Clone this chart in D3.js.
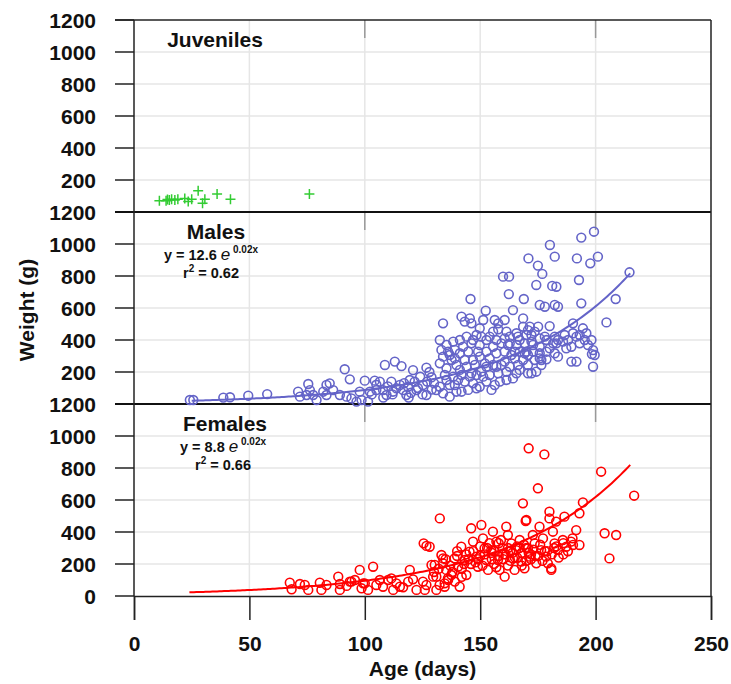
<!DOCTYPE html>
<html><head><meta charset="utf-8">
<script src="https://cdn.jsdelivr.net/npm/d3@7"></script>
<style>body{margin:0;background:#fff}svg{display:block;font-family:"Liberation Sans",Arial,sans-serif}</style>
</head><body><svg id="c" width="731" height="684"></svg>
<script>
// ---------- data ----------
const xTicks = [0, 50, 100, 150, 200, 250];
const yTicks = [0, 200, 400, 600, 800, 1000, 1200];
const panelNames = ["Juveniles", "Males", "Females"];

const juvAge    = [11, 13.9, 14.5, 15.3, 16.3, 17.7, 19, 22, 23.5, 25, 27.8, 29.7, 30.7, 36, 41.8, 76];
const juvWeight = [71, 71, 78, 75, 79, 75, 80, 85, 65, 79, 133, 54, 79, 112, 79, 112];

const maleAge = [24.2,25.7,38.7,41.6,49.5,57.7,
71.1,75.5,76.2,74.8,79.1,82,83.4,84.8,86.3,83.4,91.3,93.5,92.1,94.2,97.8,100,98.6,101.4,102.2,104.3,105,106.5,108.7,113,115.9,111.5,112.2,113.7,116.6,118.7,120.9,121.6,122.4,126.7,128.9,126.7,131,109.4,118,96.4,71.9,77.6,89.2,107.9,115.2,125.2,119.5,
145.8,152.4,162.4,168.9,141.9,143.3,145.5,146.2,133.9,156.3,160.6,164.2,168.6,171.5,175.8,178,182.3,183.7,193.8,204.7,190.2,194.5,180.1,175.1,173.6,168.6,149.8,148.4,155.6,157.8,162.8,166.4,170,172.2,175.8,178,182.3,183.7,188.1,190.2,193.1,195.3,196,187.3,183,175.8,172.9,169.3,165.7,162.1,159.2,155.6,152.7,149.8,146.2,142.6,138.3,135.4,132.5,136.8,141.2,144.8,149.1,152.7,157,160.6,165,169.3,172.9,178.7,182.3,198.9,199.6,183.7,178.7,176.5,189.5,191.7,198.9,174.3,170.7,167.1,162.8,159.2,155.6,152,147.7,144.1,139.7,135.4,132.5,134.7,138.3,141.9,146.2,150.5,154.1,157.8,161.4,165.7,158.5,154.9,149.8,146.9,143.3,139,135.4,136.8,141.9,148.4,132.5,176.5,170.7,168.6,165,154.1,146.9,151.3,141.2,137.6,161.4,
199.3,193.8,180.2,182.3,170.9,175,176.9,191.9,201,197.7,192.8,214.7,159.9,162.5,174.3,181.2,183,208.7,198.4,
133.9,139,143.3,149.8,152.7,157,160.6,163.5,167.1,170.7,173.6,175.8,180.1,181.6,185.9,189.5,193.1,196.7,198.2,191.7,186.6,178.7,172.2,167.1,162.8,160.6,157,154.1,150.5,146.9,144.1,141.2,139,136.1,133.2,145.5,148.4,140.4,136.8,144.8,152.7,156.3,139.7,133.9,164.2,166.4,172.2,175.8,170,165.7,161.4,151.3,157.8,170.7,
110,112,117,120,123,127,129,125,105,103,108,119,130,128,124];
const maleWeight = [25,25,40,42,52,62,
77,125,87,56,25,77,119,129,87,56,217,154,46,35,77,146,25,15,77,146,87,140,244,265,237,140,77,98,87,108,212,140,87,227,167,56,87,56,56,15,46,56,56,87,119,119,150,
656,583,687,656,546,515,535,504,504,525,525,587,535,483,619,608,619,608,629,510,504,473,487,483,452,483,473,431,452,467,421,421,431,431,410,421,421,400,400,442,431,400,442,348,379,358,369,379,369,369,379,358,400,369,379,358,390,369,400,306,317,327,327,327,317,327,327,317,327,327,317,337,306,296,279,275,265,265,233,202,192,213,233,244,244,254,244,233,244,223,254,181,171,181,192,202,181,192,202,192,140,88,108,129,140,119,150,46,77,98,108,244,244,275,285,285,275,171,213,275,150,
1077,1040,994,921,910,865,813,910,921,879,775,823,796,796,744,738,733,656,312,
296,285,275,296,233,233,265,306,327,306,275,317,348,379,390,358,379,369,400,421,431,400,390,400,379,410,400,421,421,400,421,400,338,327,338,171,181,150,119,88,140,119,77,67,160,244,192,285,327,442,452,525,504,462,
110,60,130,70,100,140,90,60,120,60,40,40,130,200,170];

const femaleAge = [67.5,68.3,71.9,74,75.5,80.5,81.2,83.4,88.5,89.2,89.2,92.1,94.2,95.7,97.8,98.6,100,101.4,103.6,105,106.5,107.9,110.1,111.5,112.3,113.7,116.6,118.8,119.5,120.9,122.4,125.2,126,126.7,128.9,129.6,131,132.5,125.5,126.7,133.2,133.9,134.6,136.1,93.5,99.3,115.2,
128.1,133.9,130.3,131,132.4,134.6,135.3,137.5,138.9,140.4,141.1,141.8,143.3,144,145.4,146.1,146.9,148.3,149,150.5,151.2,151.9,152.6,153.4,154.8,155.5,157,157.7,158.4,159.8,160.6,161.3,162,163.5,164.2,164.9,165.6,167.1,167.8,168.5,169.2,170,170.7,171.4,172.8,173.6,174.3,175,175.7,176.4,177.2,178.6,179.3,180,180,180.8,181.5,182.2,182.9,183.7,185.8,186.5,187.3,189.4,190.2,191.6,193,193,194.5,202.4,203.9,206,
171,177.8,216.7,169.7,208.9,180.8,
150,155,160,165,170,148,158,163,168,172,145,153,160,166,175,178,182,186,140,143,137,135,156,162,170,
138,140,142,144,146,147,149,150,151,152,154,155,156,157,158,159,161,162,163,164,166,167,168,169,171,172,173,174,176,177,179,181,183,184,186,188,190,136,139,142,130,132];
const femaleWeight = [83,42,75,69,38,83,38,69,121,75,38,63,90,100,163,48,79,38,183,69,100,58,100,110,38,79,54,90,163,104,38,90,38,69,194,121,38,485,329,313,256,204,58,100,90,79,58,
308,235,194,121,69,79,163,131,235,183,58,308,225,131,277,423,340,246,183,444,360,298,225,163,287,402,340,225,163,298,121,433,381,329,235,163,287,350,215,579,173,475,298,246,381,329,204,673,433,287,360,246,204,527,485,163,402,329,465,287,350,496,308,340,319,412,517,319,585,777,392,235,
923,885,627,469,381,173,
250,270,260,240,300,210,330,280,270,260,230,300,230,310,250,280,300,260,280,200,190,230,200,190,220,
150,250,170,260,200,280,230,310,190,260,330,230,280,180,250,350,260,300,220,270,240,300,190,320,270,230,290,250,320,220,280,260,310,240,330,280,360,110,90,120,150,170];

// fitted curves (y = a·e^(b·x)), [a, b, fromAge, toAge]
const maleFit   = [12.6, 0.0194, 25, 215];
const femaleFit = [14.7, 0.0187, 24, 215];

// ---------- drawing ----------
const svg = d3.select("#c");
const X0 = 134, X1 = 711;
const panelTops = [20, 212, 404], panelH = 192;
const x = d3.scaleLinear().domain([0, 250]).range([X0, X1]);
const ys = panelTops.map(t => d3.scaleLinear().domain([0, 1200]).range([t + panelH, t]));
const F = "bold 21px 'Liberation Sans', Arial, sans-serif";

// grid
ys.forEach((y, i) => {
  const g = svg.append("g");
  g.selectAll("line.h").data(yTicks.filter(v => v > 0 && v < 1200)).join("line")
    .attr("x1", X0).attr("x2", X1).attr("y1", d => y(d)).attr("y2", d => y(d))
    .attr("stroke", "#e6e6e6").attr("stroke-width", 1.5);
  g.selectAll("line.v").data(xTicks.filter(v => v > 0 && v < 250)).join("line")
    .attr("y1", y(0)).attr("y2", y(1200)).attr("x1", d => x(d)).attr("x2", d => x(d))
    .attr("stroke", "#e6e6e6").attr("stroke-width", 1.5);
  g.selectAll("line.t").data([100, 200]).join("line")
    .attr("y1", y(1200)).attr("y2", y(1200) + 18).attr("x1", d => x(d)).attr("x2", d => x(d))
    .attr("stroke", "#999").attr("stroke-width", 1.5);
});

// left axis ticks & labels
ys.forEach((y, i) => {
  const vals = i === 2 ? yTicks : yTicks.filter(v => v > 0);
  svg.append("g").selectAll("line").data(vals).join("line")
    .attr("x1", 115).attr("x2", X0).attr("y1", d => y(d)).attr("y2", d => y(d))
    .attr("stroke", "#222").attr("stroke-width", 1.5);
  svg.append("g").selectAll("text").data(vals).join("text")
    .attr("x", 96).attr("y", d => y(d)).attr("dy", "0.36em")
    .attr("text-anchor", "end").style("font", F).attr("fill", "#111").text(d => d);
});

// frame lines
svg.append("line").attr("x1", 115).attr("x2", X1).attr("y1", 20).attr("y2", 20).attr("stroke", "#222").attr("stroke-width", 1.5);
[212, 404].forEach(v => svg.append("line").attr("x1", 115).attr("x2", X1).attr("y1", v).attr("y2", v).attr("stroke", "#111").attr("stroke-width", 2));
svg.append("line").attr("x1", X0).attr("x2", X0).attr("y1", 20).attr("y2", 596).attr("stroke", "#222").attr("stroke-width", 1.5);
svg.append("line").attr("x1", X1).attr("x2", X1).attr("y1", 20).attr("y2", 596).attr("stroke", "#222").attr("stroke-width", 1.5);

// bottom axis
const xa = svg.append("g").attr("transform", "translate(0,596)")
  .call(d3.axisBottom(x).tickValues(xTicks).tickSize(24).tickPadding(16).tickFormat(d3.format("d")));
xa.select(".domain").attr("stroke", "#222").attr("stroke-width", 1.5);
xa.selectAll(".tick line").attr("stroke", "#222").attr("stroke-width", 1.5);
xa.selectAll(".tick text").style("font", F).attr("fill", "#111");

svg.append("text").attr("x", (X0 + X1) / 2).attr("y", 676).attr("text-anchor", "middle")
  .style("font", F).attr("fill", "#111").text("Age (days)");
svg.append("text").attr("transform", "translate(34,310) rotate(-90)").attr("text-anchor", "middle")
  .style("font", F).attr("fill", "#111").text("Weight (g)");

// fit curves
function fitPath(p, y) {
  const pts = d3.range(p[2], p[3] + 0.01, 1).map(a => [a, p[0] * Math.exp(p[1] * a)]);
  return d3.line().x(d => x(d[0])).y(d => y(d[1]))(pts);
}
svg.append("path").attr("d", fitPath(maleFit, ys[1])).attr("fill", "none").attr("stroke", "#6464c8").attr("stroke-width", 2);
svg.append("path").attr("d", fitPath(femaleFit, ys[2])).attr("fill", "none").attr("stroke", "#ff0000").attr("stroke-width", 2);

// points
svg.append("g").selectAll("circle").data(maleAge.map((a, i) => [a, maleWeight[i]])).join("circle")
  .attr("cx", d => x(d[0])).attr("cy", d => ys[1](d[1])).attr("r", 4.4)
  .attr("fill", "none").attr("stroke", "#6464c8").attr("stroke-width", 1.6);
svg.append("g").selectAll("circle").data(femaleAge.map((a, i) => [a, femaleWeight[i]])).join("circle")
  .attr("cx", d => x(d[0])).attr("cy", d => ys[2](d[1])).attr("r", 4.4)
  .attr("fill", "none").attr("stroke", "#ff0000").attr("stroke-width", 1.6);
svg.append("g").selectAll("path").data(juvAge.map((a, i) => [a, juvWeight[i]])).join("path")
  .attr("d", d => { const cx = x(d[0]), cy = ys[0](d[1]); return `M${cx-5},${cy}H${cx+5}M${cx},${cy-5}V${cy+5}`; })
  .attr("stroke", "#33cc33").attr("stroke-width", 1.5).attr("fill", "none");

// panel titles & equations
svg.append("text").attr("x", 215).attr("y", 47).attr("text-anchor", "middle").style("font", F).attr("fill", "#111").text(panelNames[0]);
svg.append("text").attr("x", 216).attr("y", 239).attr("text-anchor", "middle").style("font", F).attr("fill", "#111").text(panelNames[1]);
svg.append("text").attr("x", 225).attr("y", 431).attr("text-anchor", "middle").style("font", F).attr("fill", "#111").text(panelNames[2]);

function equation(cx, y1, a, r2) {
  const t = svg.append("text").attr("x", cx).attr("y", y1).attr("text-anchor", "middle")
    .style("font-family", "'Liberation Sans', Arial, sans-serif").attr("fill", "#111");
  t.append("tspan").style("font-weight", "bold").style("font-size", "14.5px").text(`y = ${a} `);
  t.append("tspan").style("font-style", "italic").style("font-size", "17px").text("e");
  t.append("tspan").style("font-weight", "bold").style("font-size", "10px").attr("dy", -7).text(" 0.02x");
  const r = svg.append("text").attr("x", cx).attr("y", y1 + 18).attr("text-anchor", "middle")
    .style("font-family", "'Liberation Sans', Arial, sans-serif").style("font-weight", "bold").attr("fill", "#111");
  r.append("tspan").style("font-size", "14.5px").text("r");
  r.append("tspan").style("font-size", "10px").attr("dy", -6).text("2");
  r.append("tspan").style("font-size", "14.5px").attr("dy", 6).text(` = ${r2}`);
}
equation(211, 260, "12.6", "0.62");
equation(223, 452, "8.8", "0.66");
</script></body></html>
